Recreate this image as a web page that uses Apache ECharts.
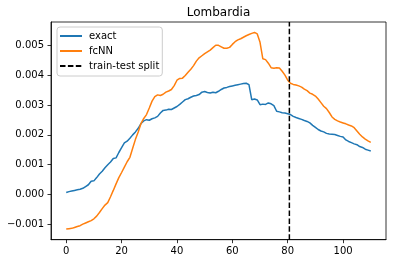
<!DOCTYPE html>
<html>
<head>
<meta charset="utf-8">
<script src="https://cdn.jsdelivr.net/npm/echarts@6/dist/echarts.min.js"></script>
<style>html,body{margin:0;padding:0;background:#fff}#c{width:396px;height:264px}</style>
</head>
<body>
<div id="c"></div>
<script>
const TITLE = 'Lombardia';
const SERIES_NAMES = ['exact', 'fcNN', 'train-test split'];
const X_TICKS = [0, 20, 40, 60, 80, 100];
const Y_TICKS = [-0.001, 0, 0.001, 0.002, 0.003, 0.004, 0.005];
const SPLIT_X = 80.6;
const exact = [
  0.00007,0.00010,0.00012,0.00014,0.00016,0.00018,0.00021,0.00027,0.00033,0.00045,
  0.00046,0.00057,0.00069,0.00078,0.00090,0.00100,0.00109,0.00121,0.00123,0.00141,
  0.00157,0.00173,0.00179,0.00189,0.00200,0.00210,0.00222,0.00238,0.00247,0.00251,
  0.00249,0.00254,0.00257,0.00262,0.00273,0.00282,0.00283,0.00286,0.00285,0.00290,
  0.00295,0.00302,0.00310,0.00318,0.00321,0.00326,0.00330,0.00332,0.00335,0.00343,
  0.00345,0.00342,0.00340,0.00343,0.00341,0.00346,0.00352,0.00357,0.00359,0.00362,
  0.00364,0.00366,0.00368,0.00370,0.00372,0.00373,0.00368,0.00318,0.00320,0.00317,
  0.00301,0.00303,0.00302,0.00307,0.00304,0.00298,0.00279,0.00277,0.00274,0.00273,
  0.00271,0.00268,0.00262,0.00258,0.00255,0.00252,0.00248,0.00245,0.00240,0.00232,
  0.00225,0.00218,0.00213,0.00210,0.00205,0.00203,0.00202,0.00201,0.00198,0.00195,
  0.00193,0.00183,0.00178,0.00174,0.00170,0.00167,0.00161,0.00158,0.00152,0.00149,
  0.00146
];
const fcNN = [
  -0.00115,-0.00114,-0.00113,-0.00110,-0.00107,-0.00104,-0.00099,-0.00095,-0.00091,-0.00087,
  -0.00081,-0.00072,-0.00060,-0.00047,-0.00035,-0.00027,-0.00007,0.00014,0.00036,0.00057,
  0.00074,0.00092,0.00110,0.00125,0.00155,0.00185,0.00210,0.00238,0.00255,0.00268,
  0.00290,0.00313,0.00328,0.00334,0.00332,0.00336,0.00343,0.00347,0.00352,0.00365,
  0.00383,0.00389,0.00390,0.00399,0.00410,0.00420,0.00432,0.00447,0.00458,0.00465,
  0.00472,0.00478,0.00484,0.00492,0.00500,0.00500,0.00495,0.00490,0.00490,0.00493,
  0.00503,0.00512,0.00518,0.00522,0.00527,0.00532,0.00536,0.00540,0.00543,0.00538,
  0.00510,0.00455,0.00452,0.00440,0.00425,0.00423,0.00425,0.00424,0.00413,0.00400,
  0.00383,0.00373,0.00369,0.00367,0.00364,0.00360,0.00353,0.00348,0.00340,0.00336,
  0.00330,0.00320,0.00308,0.00296,0.00288,0.00275,0.00260,0.00252,0.00247,0.00243,
  0.00240,0.00237,0.00233,0.00230,0.00224,0.00213,0.00202,0.00193,0.00186,0.00180,
  0.00175
];
const X_MIN = -5.5, X_MAX = 115.5;
const Y_MIN = -0.00151, Y_MAX = 0.00578;

const FONT = 'DejaVu Sans';
const chart = echarts.init(document.getElementById('c'), null, {renderer: 'canvas'});
const fmtY = v => (v < 0 ? '\u2212' : '') + Math.abs(v).toFixed(3);
chart.setOption({
  animation: false,
  textStyle: {fontFamily: FONT},
  grid: {left: 51, right: 10, top: 22, bottom: 24.3, show: true, borderColor: '#000', borderWidth: 0.8, containLabel: false},
  graphic: [{type: 'text', style: {text: TITLE, x: 218.5, y: 12.5, textAlign: 'center', textVerticalAlign: 'middle', font: '12px "DejaVu Sans"', fill: '#000'}}],
  legend: {
    orient: 'vertical', left: 57, top: 27,
    data: SERIES_NAMES,
    itemWidth: 22, itemHeight: 10, itemGap: 5,
    padding: [4, 3, 5, 2],
    itemStyle: {opacity: 0},
    backgroundColor: 'rgba(255,255,255,0.8)', borderColor: '#cccccc', borderWidth: 1, borderRadius: 3,
    textStyle: {fontFamily: FONT, fontSize: 10, color: '#000', padding: [0, 0, 0, 2]}
  },
  xAxis: {
    type: 'value', min: X_MIN, max: X_MAX,
    axisLine: {show: true, onZero: false, lineStyle: {color: '#000', width: 0.8}},
    axisTick: {show: true, length: 3.5, customValues: X_TICKS, lineStyle: {color: '#000', width: 0.8}},
    axisLabel: {customValues: X_TICKS, fontFamily: FONT, fontSize: 10, color: '#000', margin: 7},
    splitLine: {show: false}
  },
  yAxis: {
    type: 'value', min: Y_MIN, max: Y_MAX,
    axisLine: {show: true, onZero: false, lineStyle: {color: '#000', width: 0.8}},
    axisTick: {show: true, length: 3.5, customValues: Y_TICKS, lineStyle: {color: '#000', width: 0.8}},
    axisLabel: {customValues: Y_TICKS, formatter: fmtY, fontFamily: FONT, fontSize: 10, color: '#000', margin: 7},
    splitLine: {show: false}
  },
  series: [
    {name: SERIES_NAMES[0], type: 'line', symbol: 'none', color: '#1f77b4', lineStyle: {width: 1.5, color: '#1f77b4'},
     data: exact.map((v, i) => [i, v])},
    {name: SERIES_NAMES[1], type: 'line', symbol: 'none', color: '#ff7f0e', lineStyle: {width: 1.5, color: '#ff7f0e'},
     data: fcNN.map((v, i) => [i, v])},
    {name: SERIES_NAMES[2], type: 'line', symbol: 'none', color: '#000', lineStyle: {width: 1.5, color: '#000', type: [5.5, 2.4]},
     data: [[SPLIT_X, Y_MIN], [SPLIT_X, Y_MAX]]}
  ]
});
</script>
</body>
</html>
